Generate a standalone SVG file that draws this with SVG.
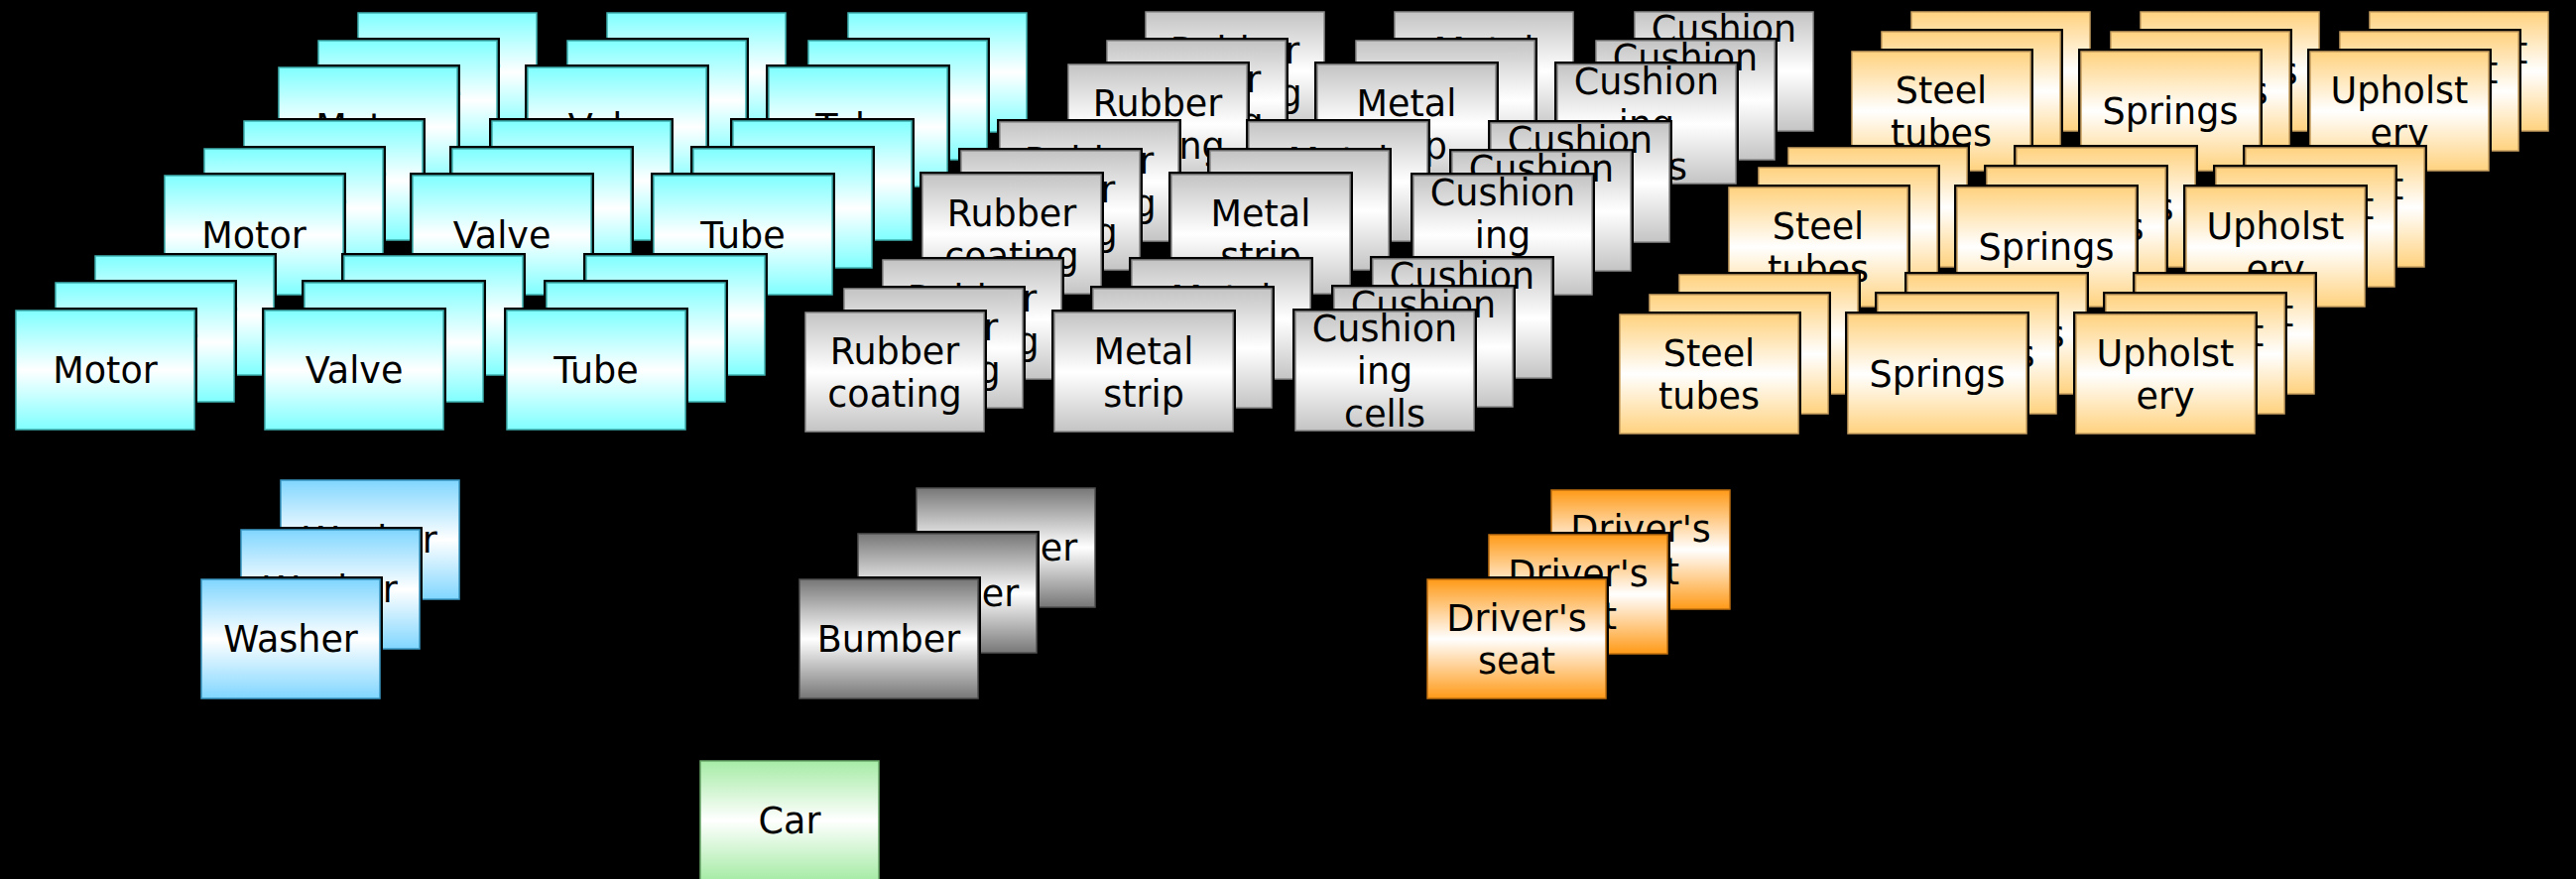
<svg xmlns="http://www.w3.org/2000/svg" xmlns:xlink="http://www.w3.org/1999/xlink" width="2597" height="886" viewBox="0 0 2597 886">
<style>
text{font-family:"DejaVu Sans","Liberation Sans",sans-serif;font-size:36.5px;fill:#000;text-anchor:middle}
.cy{fill:url(#gcy);stroke:#3fb0b0;stroke-width:1.5}
.wa{fill:url(#gwa);stroke:#3a98c4;stroke-width:1.5}
.gr{fill:url(#ggr);stroke:#8a8a8a;stroke-width:1.5}
.bu{fill:url(#gbu);stroke:#505050;stroke-width:1.5}
.or{fill:url(#gor);stroke:#c9a060;stroke-width:1.5}
.dr{fill:url(#gdr);stroke:#c07010;stroke-width:1.5}
.ca{fill:url(#gca);stroke:#6aa86a;stroke-width:1.5}
</style>
<defs>
<linearGradient id="gcy" x1="0" y1="0" x2="0" y2="1"><stop offset="0" stop-color="#80ffff"/><stop offset="0.5" stop-color="#ffffff"/><stop offset="1" stop-color="#80ffff"/></linearGradient>
<linearGradient id="gwa" x1="0" y1="0" x2="0" y2="1"><stop offset="0" stop-color="#80d6ff"/><stop offset="0.5" stop-color="#ffffff"/><stop offset="1" stop-color="#80d6ff"/></linearGradient>
<linearGradient id="ggr" x1="0" y1="0" x2="0" y2="1"><stop offset="0" stop-color="#c4c4c4"/><stop offset="0.5" stop-color="#ffffff"/><stop offset="1" stop-color="#c4c4c4"/></linearGradient>
<linearGradient id="gbu" x1="0" y1="0" x2="0" y2="1"><stop offset="0" stop-color="#777777"/><stop offset="0.5" stop-color="#ffffff"/><stop offset="1" stop-color="#777777"/></linearGradient>
<linearGradient id="gor" x1="0" y1="0" x2="0" y2="1"><stop offset="0" stop-color="#ffd27f"/><stop offset="0.5" stop-color="#ffffff"/><stop offset="1" stop-color="#ffd27f"/></linearGradient>
<linearGradient id="gdr" x1="0" y1="0" x2="0" y2="1"><stop offset="0" stop-color="#ff9a18"/><stop offset="0.5" stop-color="#ffffff"/><stop offset="1" stop-color="#ff9a18"/></linearGradient>
<linearGradient id="gca" x1="0" y1="0" x2="0" y2="1"><stop offset="0" stop-color="#a6eba6"/><stop offset="0.5" stop-color="#ffffff"/><stop offset="1" stop-color="#a6eba6"/></linearGradient>
<rect id="sh" x="-3" y="-3" width="186" height="126" fill="#000"/>
<rect id="bx" width="180" height="120"/>
</defs>
<rect width="2597" height="886" fill="#000"/>
<g id="connectors"/>

<!-- cyan row 1 -->
<g id="c-r1-motor-3" transform="translate(361,13)"><use href="#sh"/><use href="#bx" class="cy"/><text x="90" y="73">Motor</text></g>
<g id="c-r1-motor-2" transform="translate(321,41)"><use href="#sh"/><use href="#bx" class="cy"/><text x="90" y="73">Motor</text></g>
<g id="c-r1-motor-1" transform="translate(281,68)"><use href="#sh"/><use href="#bx" class="cy"/><text x="90" y="73">Motor</text></g>
<g id="c-r1-valve-3" transform="translate(612,13)"><use href="#sh"/><use href="#bx" class="cy"/><text x="90" y="73">Valve</text></g>
<g id="c-r1-valve-2" transform="translate(572,41)"><use href="#sh"/><use href="#bx" class="cy"/><text x="90" y="73">Valve</text></g>
<g id="c-r1-valve-1" transform="translate(532,68)"><use href="#sh"/><use href="#bx" class="cy"/><text x="90" y="73">Valve</text></g>
<g id="c-r1-tube-3" transform="translate(855,13)"><use href="#sh"/><use href="#bx" class="cy"/><text x="90" y="73">Tube</text></g>
<g id="c-r1-tube-2" transform="translate(815,41)"><use href="#sh"/><use href="#bx" class="cy"/><text x="90" y="73">Tube</text></g>
<g id="c-r1-tube-1" transform="translate(775,68)"><use href="#sh"/><use href="#bx" class="cy"/><text x="90" y="73">Tube</text></g>
<!-- gray row 1 -->
<g id="g-r1-rubber-3" transform="translate(1155,12)"><use href="#sh"/><use href="#bx" class="gr"/><text x="90" y="51.5">Rubber<tspan x="90" dy="43">coating</tspan></text></g>
<g id="g-r1-rubber-2" transform="translate(1116,41)"><use href="#sh"/><use href="#bx" class="gr"/><text x="90" y="51.5">Rubber<tspan x="90" dy="43">coating</tspan></text></g>
<g id="g-r1-rubber-1" transform="translate(1077,65)"><use href="#sh"/><use href="#bx" class="gr"/><text x="90" y="51.5">Rubber<tspan x="90" dy="43">coating</tspan></text></g>
<g id="g-r1-metal-3" transform="translate(1406,12)"><use href="#sh"/><use href="#bx" class="gr"/><text x="90" y="51.5">Metal<tspan x="90" dy="43">strip</tspan></text></g>
<g id="g-r1-metal-2" transform="translate(1367,41)"><use href="#sh"/><use href="#bx" class="gr"/><text x="90" y="51.5">Metal<tspan x="90" dy="43">strip</tspan></text></g>
<g id="g-r1-metal-1" transform="translate(1328,65)"><use href="#sh"/><use href="#bx" class="gr"/><text x="90" y="51.5">Metal<tspan x="90" dy="43">strip</tspan></text></g>
<g id="g-r1-cushion-3" transform="translate(1648,12)"><use href="#sh"/><use href="#bx" class="gr"/><text x="90" y="30">Cushion<tspan x="90" dy="43">ing</tspan><tspan x="90" dy="43">cells</tspan></text></g>
<g id="g-r1-cushion-2" transform="translate(1609,41)"><use href="#sh"/><use href="#bx" class="gr"/><text x="90" y="30">Cushion<tspan x="90" dy="43">ing</tspan><tspan x="90" dy="43">cells</tspan></text></g>
<g id="g-r1-cushion-1" transform="translate(1570,65)"><use href="#sh"/><use href="#bx" class="gr"/><text x="90" y="30">Cushion<tspan x="90" dy="43">ing</tspan><tspan x="90" dy="43">cells</tspan></text></g>
<!-- orange row 1 -->
<g id="o-r1-steel-3" transform="translate(1927,12)"><use href="#sh"/><use href="#bx" class="or"/><text x="90" y="51.5">Steel<tspan x="90" dy="43">tubes</tspan></text></g>
<g id="o-r1-steel-2" transform="translate(1897,32)"><use href="#sh"/><use href="#bx" class="or"/><text x="90" y="51.5">Steel<tspan x="90" dy="43">tubes</tspan></text></g>
<g id="o-r1-steel-1" transform="translate(1867,52)"><use href="#sh"/><use href="#bx" class="or"/><text x="90" y="51.5">Steel<tspan x="90" dy="43">tubes</tspan></text></g>
<g id="o-r1-springs-3" transform="translate(2158,12)"><use href="#sh"/><use href="#bx" class="or"/><text x="90" y="73">Springs</text></g>
<g id="o-r1-springs-2" transform="translate(2128,32)"><use href="#sh"/><use href="#bx" class="or"/><text x="90" y="73">Springs</text></g>
<g id="o-r1-springs-1" transform="translate(2098,52)"><use href="#sh"/><use href="#bx" class="or"/><text x="90" y="73">Springs</text></g>
<g id="o-r1-uph-3" transform="translate(2389,12)"><use href="#sh"/><use href="#bx" class="or"/><text x="90" y="51.5">Upholst<tspan x="90" dy="43">ery</tspan></text></g>
<g id="o-r1-uph-2" transform="translate(2359,32)"><use href="#sh"/><use href="#bx" class="or"/><text x="90" y="51.5">Upholst<tspan x="90" dy="43">ery</tspan></text></g>
<g id="o-r1-uph-1" transform="translate(2329,52)"><use href="#sh"/><use href="#bx" class="or"/><text x="90" y="51.5">Upholst<tspan x="90" dy="43">ery</tspan></text></g>

<!-- cyan row 2 -->
<g id="c-r2-motor-3" transform="translate(246,122)"><use href="#sh"/><use href="#bx" class="cy"/><text x="90" y="73">Motor</text></g>
<g id="c-r2-motor-2" transform="translate(206,150)"><use href="#sh"/><use href="#bx" class="cy"/><text x="90" y="73">Motor</text></g>
<g id="c-r2-motor-1" transform="translate(166,177)"><use href="#sh"/><use href="#bx" class="cy"/><text x="90" y="73">Motor</text></g>
<g id="c-r2-valve-3" transform="translate(496,122)"><use href="#sh"/><use href="#bx" class="cy"/><text x="90" y="73">Valve</text></g>
<g id="c-r2-valve-2" transform="translate(456,150)"><use href="#sh"/><use href="#bx" class="cy"/><text x="90" y="73">Valve</text></g>
<g id="c-r2-valve-1" transform="translate(416,177)"><use href="#sh"/><use href="#bx" class="cy"/><text x="90" y="73">Valve</text></g>
<g id="c-r2-tube-3" transform="translate(739,122)"><use href="#sh"/><use href="#bx" class="cy"/><text x="90" y="73">Tube</text></g>
<g id="c-r2-tube-2" transform="translate(699,150)"><use href="#sh"/><use href="#bx" class="cy"/><text x="90" y="73">Tube</text></g>
<g id="c-r2-tube-1" transform="translate(659,177)"><use href="#sh"/><use href="#bx" class="cy"/><text x="90" y="73">Tube</text></g>
<!-- gray row 2 -->
<g id="g-r2-rubber-3" transform="translate(1008,123)"><use href="#sh"/><use href="#bx" class="gr"/><text x="90" y="51.5">Rubber<tspan x="90" dy="43">coating</tspan></text></g>
<g id="g-r2-rubber-2" transform="translate(969,152)"><use href="#sh"/><use href="#bx" class="gr"/><text x="90" y="51.5">Rubber<tspan x="90" dy="43">coating</tspan></text></g>
<g id="g-r2-rubber-1" transform="translate(930,176)"><use href="#sh"/><use href="#bx" class="gr"/><text x="90" y="51.5">Rubber<tspan x="90" dy="43">coating</tspan></text></g>
<g id="g-r2-metal-3" transform="translate(1259,123)"><use href="#sh"/><use href="#bx" class="gr"/><text x="90" y="51.5">Metal<tspan x="90" dy="43">strip</tspan></text></g>
<g id="g-r2-metal-2" transform="translate(1220,152)"><use href="#sh"/><use href="#bx" class="gr"/><text x="90" y="51.5">Metal<tspan x="90" dy="43">strip</tspan></text></g>
<g id="g-r2-metal-1" transform="translate(1181,176)"><use href="#sh"/><use href="#bx" class="gr"/><text x="90" y="51.5">Metal<tspan x="90" dy="43">strip</tspan></text></g>
<g id="g-r2-cushion-3" transform="translate(1503,124)"><use href="#sh"/><use href="#bx" class="gr"/><text x="90" y="30">Cushion<tspan x="90" dy="43">ing</tspan><tspan x="90" dy="43">cells</tspan></text></g>
<g id="g-r2-cushion-2" transform="translate(1464,153)"><use href="#sh"/><use href="#bx" class="gr"/><text x="90" y="30">Cushion<tspan x="90" dy="43">ing</tspan><tspan x="90" dy="43">cells</tspan></text></g>
<g id="g-r2-cushion-1" transform="translate(1425,177)"><use href="#sh"/><use href="#bx" class="gr"/><text x="90" y="30">Cushion<tspan x="90" dy="43">ing</tspan><tspan x="90" dy="43">cells</tspan></text></g>
<!-- orange row 2 -->
<g id="o-r2-steel-3" transform="translate(1803,149)"><use href="#sh"/><use href="#bx" class="or"/><text x="90" y="51.5">Steel<tspan x="90" dy="43">tubes</tspan></text></g>
<g id="o-r2-steel-2" transform="translate(1773,169)"><use href="#sh"/><use href="#bx" class="or"/><text x="90" y="51.5">Steel<tspan x="90" dy="43">tubes</tspan></text></g>
<g id="o-r2-steel-1" transform="translate(1743,189)"><use href="#sh"/><use href="#bx" class="or"/><text x="90" y="51.5">Steel<tspan x="90" dy="43">tubes</tspan></text></g>
<g id="o-r2-springs-3" transform="translate(2033,149)"><use href="#sh"/><use href="#bx" class="or"/><text x="90" y="73">Springs</text></g>
<g id="o-r2-springs-2" transform="translate(2003,169)"><use href="#sh"/><use href="#bx" class="or"/><text x="90" y="73">Springs</text></g>
<g id="o-r2-springs-1" transform="translate(1973,189)"><use href="#sh"/><use href="#bx" class="or"/><text x="90" y="73">Springs</text></g>
<g id="o-r2-uph-3" transform="translate(2264,149)"><use href="#sh"/><use href="#bx" class="or"/><text x="90" y="51.5">Upholst<tspan x="90" dy="43">ery</tspan></text></g>
<g id="o-r2-uph-2" transform="translate(2234,169)"><use href="#sh"/><use href="#bx" class="or"/><text x="90" y="51.5">Upholst<tspan x="90" dy="43">ery</tspan></text></g>
<g id="o-r2-uph-1" transform="translate(2204,189)"><use href="#sh"/><use href="#bx" class="or"/><text x="90" y="51.5">Upholst<tspan x="90" dy="43">ery</tspan></text></g>

<!-- cyan row 3 -->
<g id="c-r3-motor-3" transform="translate(96,258)"><use href="#sh"/><use href="#bx" class="cy"/><text x="90" y="73">Motor</text></g>
<g id="c-r3-motor-2" transform="translate(56,285)"><use href="#sh"/><use href="#bx" class="cy"/><text x="90" y="73">Motor</text></g>
<g id="c-r3-motor-1" transform="translate(16,313)"><use href="#sh"/><use href="#bx" class="cy"/><text x="90" y="73">Motor</text></g>
<g id="c-r3-valve-3" transform="translate(347,258)"><use href="#sh"/><use href="#bx" class="cy"/><text x="90" y="73">Valve</text></g>
<g id="c-r3-valve-2" transform="translate(307,285)"><use href="#sh"/><use href="#bx" class="cy"/><text x="90" y="73">Valve</text></g>
<g id="c-r3-valve-1" transform="translate(267,313)"><use href="#sh"/><use href="#bx" class="cy"/><text x="90" y="73">Valve</text></g>
<g id="c-r3-tube-3" transform="translate(591,258)"><use href="#sh"/><use href="#bx" class="cy"/><text x="90" y="73">Tube</text></g>
<g id="c-r3-tube-2" transform="translate(551,285)"><use href="#sh"/><use href="#bx" class="cy"/><text x="90" y="73">Tube</text></g>
<g id="c-r3-tube-1" transform="translate(511,313)"><use href="#sh"/><use href="#bx" class="cy"/><text x="90" y="73">Tube</text></g>
<!-- gray row 3 -->
<g id="g-r3-rubber-3" transform="translate(890,262)"><use href="#sh"/><use href="#bx" class="gr"/><text x="90" y="51.5">Rubber<tspan x="90" dy="43">coating</tspan></text></g>
<g id="g-r3-rubber-2" transform="translate(851,291)"><use href="#sh"/><use href="#bx" class="gr"/><text x="90" y="51.5">Rubber<tspan x="90" dy="43">coating</tspan></text></g>
<g id="g-r3-rubber-1" transform="translate(812,315)"><use href="#sh"/><use href="#bx" class="gr"/><text x="90" y="51.5">Rubber<tspan x="90" dy="43">coating</tspan></text></g>
<g id="g-r3-metal-3" transform="translate(1141,262)"><use href="#sh"/><use href="#bx" class="gr"/><text x="90" y="51.5">Metal<tspan x="90" dy="43">strip</tspan></text></g>
<g id="g-r3-metal-2" transform="translate(1102,291)"><use href="#sh"/><use href="#bx" class="gr"/><text x="90" y="51.5">Metal<tspan x="90" dy="43">strip</tspan></text></g>
<g id="g-r3-metal-1" transform="translate(1063,315)"><use href="#sh"/><use href="#bx" class="gr"/><text x="90" y="51.5">Metal<tspan x="90" dy="43">strip</tspan></text></g>
<g id="g-r3-cushion-3" transform="translate(1384,261)"><use href="#sh"/><use href="#bx" class="gr"/><text x="90" y="30">Cushion<tspan x="90" dy="43">ing</tspan><tspan x="90" dy="43">cells</tspan></text></g>
<g id="g-r3-cushion-2" transform="translate(1345,290)"><use href="#sh"/><use href="#bx" class="gr"/><text x="90" y="30">Cushion<tspan x="90" dy="43">ing</tspan><tspan x="90" dy="43">cells</tspan></text></g>
<g id="g-r3-cushion-1" transform="translate(1306,314)"><use href="#sh"/><use href="#bx" class="gr"/><text x="90" y="30">Cushion<tspan x="90" dy="43">ing</tspan><tspan x="90" dy="43">cells</tspan></text></g>
<!-- orange row 3 -->
<g id="o-r3-steel-3" transform="translate(1693,277)"><use href="#sh"/><use href="#bx" class="or"/><text x="90" y="51.5">Steel<tspan x="90" dy="43">tubes</tspan></text></g>
<g id="o-r3-steel-2" transform="translate(1663,297)"><use href="#sh"/><use href="#bx" class="or"/><text x="90" y="51.5">Steel<tspan x="90" dy="43">tubes</tspan></text></g>
<g id="o-r3-steel-1" transform="translate(1633,317)"><use href="#sh"/><use href="#bx" class="or"/><text x="90" y="51.5">Steel<tspan x="90" dy="43">tubes</tspan></text></g>
<g id="o-r3-springs-3" transform="translate(1923,277)"><use href="#sh"/><use href="#bx" class="or"/><text x="90" y="73">Springs</text></g>
<g id="o-r3-springs-2" transform="translate(1893,297)"><use href="#sh"/><use href="#bx" class="or"/><text x="90" y="73">Springs</text></g>
<g id="o-r3-springs-1" transform="translate(1863,317)"><use href="#sh"/><use href="#bx" class="or"/><text x="90" y="73">Springs</text></g>
<g id="o-r3-uph-3" transform="translate(2153,277)"><use href="#sh"/><use href="#bx" class="or"/><text x="90" y="51.5">Upholst<tspan x="90" dy="43">ery</tspan></text></g>
<g id="o-r3-uph-2" transform="translate(2123,297)"><use href="#sh"/><use href="#bx" class="or"/><text x="90" y="51.5">Upholst<tspan x="90" dy="43">ery</tspan></text></g>
<g id="o-r3-uph-1" transform="translate(2093,317)"><use href="#sh"/><use href="#bx" class="or"/><text x="90" y="51.5">Upholst<tspan x="90" dy="43">ery</tspan></text></g>

<!-- lower nodes -->
<g id="washer-3" transform="translate(283,484)"><use href="#sh"/><use href="#bx" class="wa"/><text x="90" y="73">Washer</text></g>
<g id="washer-2" transform="translate(243,534)"><use href="#sh"/><use href="#bx" class="wa"/><text x="90" y="73">Washer</text></g>
<g id="washer-1" transform="translate(203,584)"><use href="#sh"/><use href="#bx" class="wa"/><text x="90" y="73">Washer</text></g>
<g id="bumber-3" transform="translate(924,492)"><use href="#sh"/><use href="#bx" class="bu"/><text x="90" y="73">Bumber</text></g>
<g id="bumber-2" transform="translate(865,538)"><use href="#sh"/><use href="#bx" class="bu"/><text x="90" y="73">Bumber</text></g>
<g id="bumber-1" transform="translate(806,584)"><use href="#sh"/><use href="#bx" class="bu"/><text x="90" y="73">Bumber</text></g>
<g id="driver-3" transform="translate(1564,494)"><use href="#sh"/><use href="#bx" class="dr"/><text x="90" y="51.5">Driver's<tspan x="90" dy="43">seat</tspan></text></g>
<g id="driver-2" transform="translate(1501,539)"><use href="#sh"/><use href="#bx" class="dr"/><text x="90" y="51.5">Driver's<tspan x="90" dy="43">seat</tspan></text></g>
<g id="driver-1" transform="translate(1439,584)"><use href="#sh"/><use href="#bx" class="dr"/><text x="90" y="51.5">Driver's<tspan x="90" dy="43">seat</tspan></text></g>
<g id="car" transform="translate(706,767)"><use href="#sh"/><use href="#bx" class="ca"/><text x="90" y="73">Car</text></g>
</svg>
